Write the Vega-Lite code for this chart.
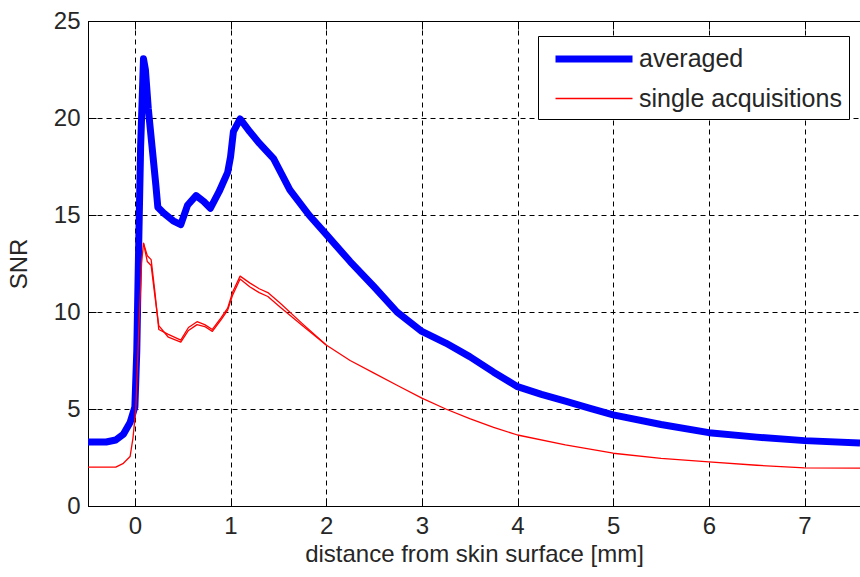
{
  "$schema": "https://vega.github.io/schema/vega-lite/v6.json",
  "width": 772,
  "height": 485,
  "autosize": "none",
  "padding": {"left": 88, "top": 21, "right": 0, "bottom": 71},
  "background": "white",
  "config": {
    "view": {"stroke": "black", "strokeWidth": 1},
    "font": "Liberation Sans",
    "axis": {
      "domainColor": "black",
      "domainWidth": 1,
      "tickColor": "black",
      "tickWidth": 1,
      "tickSize": -8,
      "labelFont": "Liberation Sans",
      "labelFontSize": 24,
      "labelColor": "#262626",
      "titleFont": "Liberation Sans",
      "titleFontSize": 24,
      "titleFontWeight": "normal",
      "titleColor": "#262626",
      "gridColor": "#000000",
      "gridDash": [5, 4],
      "gridWidth": 1,
      "gridOpacity": 1
    },
    "legend": {
      "orient": "none",
      "legendX": 450,
      "legendY": 15,
      "strokeColor": "black",
      "fillColor": "white",
      "padding": 7,
      "rowPadding": 12,
      "labelFont": "Liberation Sans",
      "labelFontSize": 25,
      "labelColor": "#262626",
      "labelOffset": 62,
      "labelLimit": 400,
      "symbolSize": 625,
      "symbolType": "M-0.44,0H5.72",
      "cornerRadius": 0
    }
  },
  "data": {
    "values": [
      {"series": "averaged", "acq": "avg", "x": -0.49, "y": 3.3},
      {"series": "averaged", "acq": "avg", "x": -0.3, "y": 3.3},
      {"series": "averaged", "acq": "avg", "x": -0.2, "y": 3.4},
      {"series": "averaged", "acq": "avg", "x": -0.12, "y": 3.7},
      {"series": "averaged", "acq": "avg", "x": -0.05, "y": 4.3},
      {"series": "averaged", "acq": "avg", "x": 0.0, "y": 5.1},
      {"series": "averaged", "acq": "avg", "x": 0.02, "y": 8.0},
      {"series": "averaged", "acq": "avg", "x": 0.04, "y": 13.5},
      {"series": "averaged", "acq": "avg", "x": 0.06, "y": 18.5},
      {"series": "averaged", "acq": "avg", "x": 0.09, "y": 23.05},
      {"series": "averaged", "acq": "avg", "x": 0.11, "y": 22.5},
      {"series": "averaged", "acq": "avg", "x": 0.14, "y": 20.5},
      {"series": "averaged", "acq": "avg", "x": 0.18, "y": 18.5},
      {"series": "averaged", "acq": "avg", "x": 0.22, "y": 16.5},
      {"series": "averaged", "acq": "avg", "x": 0.24, "y": 15.4},
      {"series": "averaged", "acq": "avg", "x": 0.3, "y": 15.1},
      {"series": "averaged", "acq": "avg", "x": 0.4, "y": 14.7},
      {"series": "averaged", "acq": "avg", "x": 0.48, "y": 14.5},
      {"series": "averaged", "acq": "avg", "x": 0.55, "y": 15.5},
      {"series": "averaged", "acq": "avg", "x": 0.64, "y": 16.0},
      {"series": "averaged", "acq": "avg", "x": 0.72, "y": 15.7},
      {"series": "averaged", "acq": "avg", "x": 0.79, "y": 15.35},
      {"series": "averaged", "acq": "avg", "x": 0.88, "y": 16.2},
      {"series": "averaged", "acq": "avg", "x": 0.97, "y": 17.2},
      {"series": "averaged", "acq": "avg", "x": 1.0, "y": 18.0},
      {"series": "averaged", "acq": "avg", "x": 1.03, "y": 19.3},
      {"series": "averaged", "acq": "avg", "x": 1.1, "y": 19.95},
      {"series": "averaged", "acq": "avg", "x": 1.2, "y": 19.3},
      {"series": "averaged", "acq": "avg", "x": 1.3, "y": 18.7},
      {"series": "averaged", "acq": "avg", "x": 1.45, "y": 17.9},
      {"series": "averaged", "acq": "avg", "x": 1.62, "y": 16.3},
      {"series": "averaged", "acq": "avg", "x": 1.82, "y": 15.0},
      {"series": "averaged", "acq": "avg", "x": 2.0, "y": 14.0},
      {"series": "averaged", "acq": "avg", "x": 2.25, "y": 12.6},
      {"series": "averaged", "acq": "avg", "x": 2.5, "y": 11.3},
      {"series": "averaged", "acq": "avg", "x": 2.74, "y": 10.0},
      {"series": "averaged", "acq": "avg", "x": 3.0, "y": 9.0},
      {"series": "averaged", "acq": "avg", "x": 3.25, "y": 8.4},
      {"series": "averaged", "acq": "avg", "x": 3.5, "y": 7.7},
      {"series": "averaged", "acq": "avg", "x": 3.75, "y": 6.9},
      {"series": "averaged", "acq": "avg", "x": 4.0, "y": 6.15},
      {"series": "averaged", "acq": "avg", "x": 4.25, "y": 5.75},
      {"series": "averaged", "acq": "avg", "x": 4.5, "y": 5.4},
      {"series": "averaged", "acq": "avg", "x": 4.75, "y": 5.05},
      {"series": "averaged", "acq": "avg", "x": 5.0, "y": 4.7},
      {"series": "averaged", "acq": "avg", "x": 5.5, "y": 4.2},
      {"series": "averaged", "acq": "avg", "x": 6.0, "y": 3.78},
      {"series": "averaged", "acq": "avg", "x": 6.5, "y": 3.55},
      {"series": "averaged", "acq": "avg", "x": 7.0, "y": 3.37},
      {"series": "averaged", "acq": "avg", "x": 7.58, "y": 3.25},
      {"series": "single acquisitions", "acq": "s1", "x": -0.49, "y": 2.0},
      {"series": "single acquisitions", "acq": "s1", "x": -0.2, "y": 2.0},
      {"series": "single acquisitions", "acq": "s1", "x": -0.12, "y": 2.2},
      {"series": "single acquisitions", "acq": "s1", "x": -0.05, "y": 2.55},
      {"series": "single acquisitions", "acq": "s1", "x": -0.02, "y": 3.5},
      {"series": "single acquisitions", "acq": "s1", "x": 0.01, "y": 5.0},
      {"series": "single acquisitions", "acq": "s1", "x": 0.04, "y": 9.0},
      {"series": "single acquisitions", "acq": "s1", "x": 0.07, "y": 12.5},
      {"series": "single acquisitions", "acq": "s1", "x": 0.09, "y": 13.55},
      {"series": "single acquisitions", "acq": "s1", "x": 0.13, "y": 12.9},
      {"series": "single acquisitions", "acq": "s1", "x": 0.17, "y": 12.7},
      {"series": "single acquisitions", "acq": "s1", "x": 0.21, "y": 11.0},
      {"series": "single acquisitions", "acq": "s1", "x": 0.25, "y": 9.1},
      {"series": "single acquisitions", "acq": "s1", "x": 0.35, "y": 8.85},
      {"series": "single acquisitions", "acq": "s1", "x": 0.48, "y": 8.55},
      {"series": "single acquisitions", "acq": "s1", "x": 0.56, "y": 9.2},
      {"series": "single acquisitions", "acq": "s1", "x": 0.65, "y": 9.5},
      {"series": "single acquisitions", "acq": "s1", "x": 0.73, "y": 9.35},
      {"series": "single acquisitions", "acq": "s1", "x": 0.81, "y": 9.1},
      {"series": "single acquisitions", "acq": "s1", "x": 0.9, "y": 9.7},
      {"series": "single acquisitions", "acq": "s1", "x": 0.97, "y": 10.2},
      {"series": "single acquisitions", "acq": "s1", "x": 1.02, "y": 11.0},
      {"series": "single acquisitions", "acq": "s1", "x": 1.1, "y": 11.85},
      {"series": "single acquisitions", "acq": "s1", "x": 1.2, "y": 11.5},
      {"series": "single acquisitions", "acq": "s1", "x": 1.3, "y": 11.2},
      {"series": "single acquisitions", "acq": "s1", "x": 1.39, "y": 11.0},
      {"series": "single acquisitions", "acq": "s1", "x": 1.52, "y": 10.45},
      {"series": "single acquisitions", "acq": "s1", "x": 1.75, "y": 9.4},
      {"series": "single acquisitions", "acq": "s1", "x": 2.0, "y": 8.3},
      {"series": "single acquisitions", "acq": "s1", "x": 2.25, "y": 7.5},
      {"series": "single acquisitions", "acq": "s1", "x": 2.5, "y": 6.85},
      {"series": "single acquisitions", "acq": "s1", "x": 2.75, "y": 6.2},
      {"series": "single acquisitions", "acq": "s1", "x": 3.0, "y": 5.56},
      {"series": "single acquisitions", "acq": "s1", "x": 3.25, "y": 5.0},
      {"series": "single acquisitions", "acq": "s1", "x": 3.5, "y": 4.5},
      {"series": "single acquisitions", "acq": "s1", "x": 3.75, "y": 4.05},
      {"series": "single acquisitions", "acq": "s1", "x": 4.0, "y": 3.66},
      {"series": "single acquisitions", "acq": "s1", "x": 4.5, "y": 3.15},
      {"series": "single acquisitions", "acq": "s1", "x": 5.0, "y": 2.72},
      {"series": "single acquisitions", "acq": "s1", "x": 5.5, "y": 2.45},
      {"series": "single acquisitions", "acq": "s1", "x": 6.0, "y": 2.27},
      {"series": "single acquisitions", "acq": "s1", "x": 6.5, "y": 2.1},
      {"series": "single acquisitions", "acq": "s1", "x": 7.0, "y": 1.97},
      {"series": "single acquisitions", "acq": "s1", "x": 7.58, "y": 1.95},
      {"series": "single acquisitions", "acq": "s2", "x": 0.09, "y": 13.55},
      {"series": "single acquisitions", "acq": "s2", "x": 0.13, "y": 12.6},
      {"series": "single acquisitions", "acq": "s2", "x": 0.17, "y": 12.4},
      {"series": "single acquisitions", "acq": "s2", "x": 0.21, "y": 10.8},
      {"series": "single acquisitions", "acq": "s2", "x": 0.25, "y": 9.3},
      {"series": "single acquisitions", "acq": "s2", "x": 0.35, "y": 8.7},
      {"series": "single acquisitions", "acq": "s2", "x": 0.48, "y": 8.45},
      {"series": "single acquisitions", "acq": "s2", "x": 0.56, "y": 9.05},
      {"series": "single acquisitions", "acq": "s2", "x": 0.65, "y": 9.35},
      {"series": "single acquisitions", "acq": "s2", "x": 0.73, "y": 9.25},
      {"series": "single acquisitions", "acq": "s2", "x": 0.81, "y": 9.0},
      {"series": "single acquisitions", "acq": "s2", "x": 0.9, "y": 9.6},
      {"series": "single acquisitions", "acq": "s2", "x": 0.97, "y": 10.1},
      {"series": "single acquisitions", "acq": "s2", "x": 1.02, "y": 10.85},
      {"series": "single acquisitions", "acq": "s2", "x": 1.1, "y": 11.7},
      {"series": "single acquisitions", "acq": "s2", "x": 1.2, "y": 11.3},
      {"series": "single acquisitions", "acq": "s2", "x": 1.3, "y": 11.0},
      {"series": "single acquisitions", "acq": "s2", "x": 1.39, "y": 10.8},
      {"series": "single acquisitions", "acq": "s2", "x": 1.52, "y": 10.25},
      {"series": "single acquisitions", "acq": "s2", "x": 1.75, "y": 9.3},
      {"series": "single acquisitions", "acq": "s2", "x": 2.0, "y": 8.3}
    ]
  },
  "resolve": {"axis": {"x": "independent"}},
  "layer": [
    {
      "mark": {"type": "line", "strokeJoin": "round", "clip": true},
      "encoding": {
        "x": {
          "field": "x",
          "type": "quantitative",
          "scale": {"domain": [-0.49, 7.58], "nice": false, "zero": false},
          "axis": {
            "title": "distance from skin surface [mm]",
            "values": [0, 1, 2, 3, 4, 5, 6, 7],
            "grid": true,
            "labelPadding": 16,
            "titlePadding": 4
          }
        },
        "y": {
          "field": "y",
          "type": "quantitative",
          "scale": {"domain": [0, 25], "nice": false},
          "axis": {
            "title": "SNR",
            "values": [0, 5, 10, 15, 20, 25],
            "grid": true,
            "labelPadding": 16,
            "titlePadding": 22
          }
        },
        "color": {
          "field": "series",
          "type": "nominal",
          "scale": {"domain": ["averaged", "single acquisitions"], "range": ["#0000ff", "#ff0000"]},
          "legend": {"title": null}
        },
        "strokeWidth": {
          "field": "series",
          "type": "nominal",
          "scale": {"domain": ["averaged", "single acquisitions"], "range": [7, 1.3]},
          "legend": {"title": null}
        },
        "detail": {"field": "acq", "type": "nominal"}
      }
    },
    {
      "mark": {"type": "point", "opacity": 0},
      "encoding": {
        "x": {
          "field": "x",
          "type": "quantitative",
          "scale": {"domain": [-0.49, 7.58], "nice": false, "zero": false},
          "axis": {
            "orient": "top",
            "title": null,
            "labels": false,
            "grid": false,
            "values": [0, 1, 2, 3, 4, 5, 6, 7]
          }
        },
        "y": {"field": "y", "type": "quantitative"}
      }
    }
  ]
}
